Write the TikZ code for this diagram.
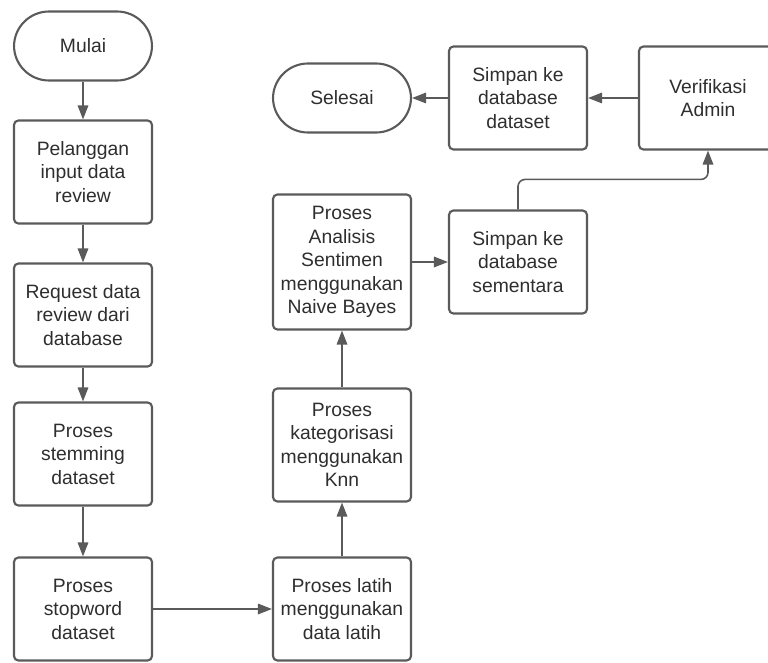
\documentclass[tikz,border=0pt]{standalone}
\usepackage{fontspec}
\setmainfont{Liberation Sans}
\usepackage{xcolor}
\usetikzlibrary{arrows.meta}
\definecolor{garis}{HTML}{5A5A5A}
\definecolor{teks}{HTML}{2E2E2E}

\begin{document}
\begin{tikzpicture}[>={Triangle[length=8pt,width=6pt]},
	box/.style = {draw=garis,line width=1.2pt,rounded corners=2.5pt,minimum width=2.76cm,minimum height=2.06cm,align=center,text=teks,inner sep=1pt,font=\fontsize{11}{13.4}\selectfont},
	term/.style = {box,rounded corners=0.7cm,minimum height=1.38cm},
	panah/.style = {->,draw=garis,line width=0.9pt}
	]
	\useasboundingbox (0,0) rectangle (15.36,13.24);
	%KOLOM KIRI
	\node[term] (mulai) at (1.66,12.32) {Mulai};
	\node[box] (input) at (1.66,9.80) {Pelanggan\\input data\\review};
	\node[box] (request) at (1.66,6.94) {Request data\\review dari\\database};
	\node[box] (stemming) at (1.66,4.16) {Proses\\stemming\\dataset};
	\node[box] (stopword) at (1.66,1.06) {Proses\\stopword\\dataset};
	%KOLOM TENGAH
	\node[box] (latih) at (6.84,1.06) {Proses latih\\menggunakan\\data latih};
	\node[box,minimum height=2.26cm] (knn) at (6.84,4.34) {Proses\\kategorisasi\\menggunakan\\Knn};
	\node[box,minimum height=2.70cm] (bayes) at (6.84,8.00) {Proses\\Analisis\\Sentimen\\menggunakan\\Naive Bayes};
	\node[term] (selesai) at (6.84,11.28) {Selesai};
	%KOLOM KANAN
	\node[box] (sementara) at (10.36,8.00) {Simpan ke\\database\\sementara};
	\node[box] (dataset) at (10.36,11.28) {Simpan ke\\database\\dataset};
	\node[box] (admin) at (14.16,11.28) {Verifikasi\\Admin};
	%Alur
	\draw[panah] (mulai) -- (input);
	\draw[panah] (input) -- (request);
	\draw[panah] (request) -- (stemming);
	\draw[panah] (stemming) -- (stopword);
	\draw[panah] (stopword) -- (latih);
	\draw[panah] (latih) -- (knn);
	\draw[panah] (knn) -- (bayes);
	\draw[panah] (bayes) -- (sementara);
	\draw[panah,rounded corners=4pt] (sementara.north) -- ++(0,0.6) -| (admin.south);
	\draw[panah] (admin) -- (dataset);
	\draw[panah] (dataset) -- (selesai);
\end{tikzpicture}
\end{document}
